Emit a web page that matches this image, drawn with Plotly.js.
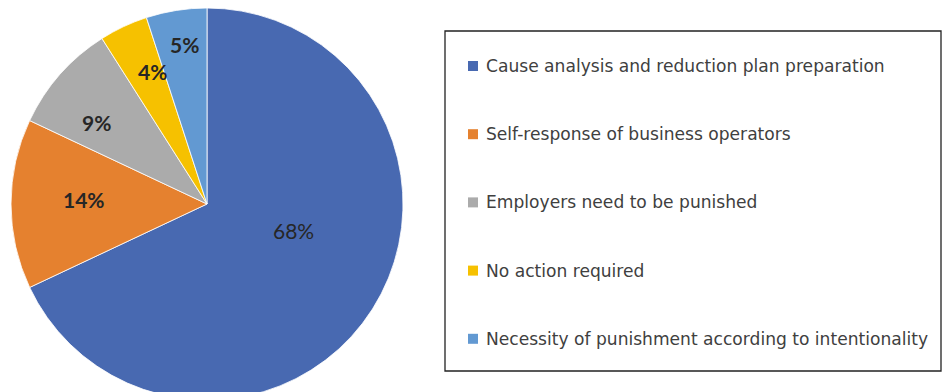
<!DOCTYPE html>
<html>
<head>
<meta charset="utf-8">
<script src="https://cdn.plot.ly/plotly-3.0.1.min.js"></script>
<style>html,body{margin:0;padding:0;background:#fff;overflow:hidden;}#chart{width:942px;height:400px;}</style>
</head>
<body>
<div id="chart"></div>
<script>
const categories = [
  "Cause analysis and reduction plan preparation",
  "Self-response of business operators",
  "Employers need to be punished",
  "No action required",
  "Necessity of punishment according to intentionality"
];
const shares = [68, 14, 9, 4, 5];
const sliceColors = ["#4869B1", "#E5812F", "#ABABAB", "#F6C100", "#6299D2"];
const labelWeights = ["normal", "bold", "bold", "bold", "bold"];

const W = 942, H = 400;           // canvas slightly taller than the window; bottom rows are clipped
const cx = 207, cy = 204, R = 196; // pie centre / radius in pixels from top-left
const py = v => 1 - v / H;         // pixel-from-top -> paper y

// label placement: fraction of radius and small angular nudge (degrees) per slice
const labelRadius = [0.46, 0.63, 0.70, 0.73, 0.82];
const labelAngleNudge = [-15.6, 2, -5, 3, 1];

const trace = {
  type: "pie",
  labels: categories,
  values: shares,
  sort: false,
  direction: "clockwise",
  rotation: 0,
  marker: {colors: sliceColors, line: {color: "#ffffff", width: 0.8}},
  textinfo: "none",
  hoverinfo: "label+percent",
  showlegend: false,
  domain: {x: [(cx - R) / W, (cx + R) / W], y: [py(cy + R), py(cy - R)]}
};

const annotations = [];
const total = shares.reduce((a, b) => a + b, 0);
let cum = 0;
shares.forEach((v, i) => {
  const mid = (cum + v / 2) / total * 360 + labelAngleNudge[i];
  cum += v;
  const a = mid * Math.PI / 180;
  const rr = labelRadius[i] * R;
  const x = cx + rr * Math.sin(a), y = cy - rr * Math.cos(a);
  annotations.push({
    xref: "paper", yref: "paper", x: x / W, y: py(y),
    xanchor: "center", yanchor: "middle", showarrow: false,
    text: Math.round(v / total * 100) + "%",
    font: {family: "Lato, 'Open Sans', sans-serif", size: 21, color: "#262626", weight: labelWeights[i]}
  });
});

// Legend drawn as a boxed list
const shapes = [{
  type: "rect", xref: "paper", yref: "paper",
  x0: 445 / W, x1: 941 / W, y0: py(371), y1: py(31),
  line: {color: "#222", width: 1.3}, fillcolor: "rgba(0,0,0,0)"
}];
const rowY0 = 66, rowStep = 68.2;
categories.forEach((c, i) => {
  const yc = rowY0 + i * rowStep;
  shapes.push({
    type: "rect", xref: "paper", yref: "paper",
    x0: 468 / W, x1: 478 / W, y0: py(yc + 5), y1: py(yc - 5),
    line: {width: 0}, fillcolor: sliceColors[i]
  });
  annotations.push({
    xref: "paper", yref: "paper", x: 484 / W, y: py(yc),
    xanchor: "left", yanchor: "middle", showarrow: false,
    text: c, font: {family: "'DejaVu Sans', Verdana, sans-serif", size: 17.1, color: "#404040"}
  });
});

const layout = {
  width: W, height: H,
  margin: {l: 0, r: 0, t: 0, b: 0},
  paper_bgcolor: "#ffffff",
  showlegend: false,
  shapes: shapes,
  annotations: annotations
};
Plotly.newPlot("chart", [trace], layout, {displayModeBar: false, staticPlot: true});
</script>
</body>
</html>
